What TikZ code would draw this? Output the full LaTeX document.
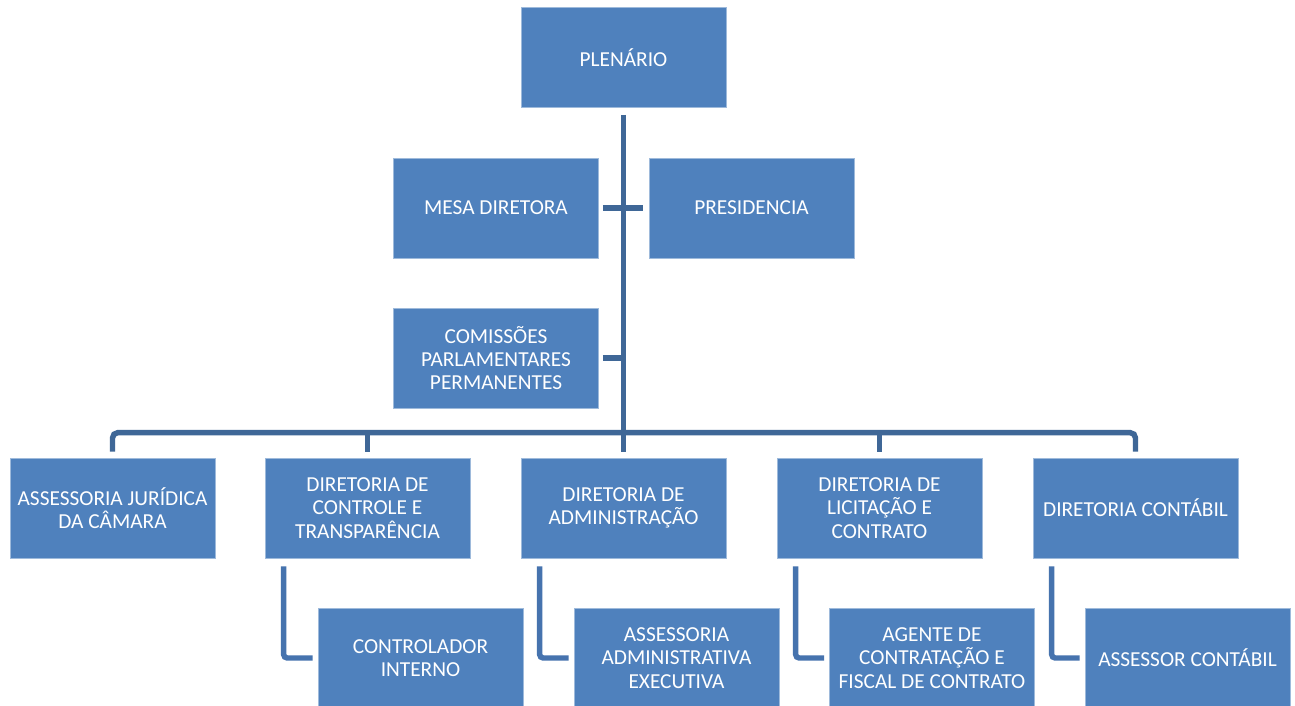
\documentclass[tikz,border=0pt]{standalone}
\usepackage{fontspec}
\setmainfont{Carlito}
\usepackage{tikz}
\usetikzlibrary{positioning,calc}
\definecolor{boxblue}{HTML}{4F81BD}
\definecolor{linkblue}{HTML}{3F6797}
\definecolor{sublink}{HTML}{4673AE}
\begin{document}
\begin{tikzpicture}[x=0.02cm,y=-0.02cm]
            \tikzstyle{every node}=[font=\fontsize{12.15}{13.3}\selectfont]
            \tikzstyle{unit}=[rectangle, fill=boxblue, draw=boxblue!55!white, line width=0.4pt, text=white, align=center, minimum width=4.1cm, minimum height=2cm, inner sep=0pt]
            \tikzstyle{link}=[line width=3.1pt, draw=linkblue]
            \tikzstyle{sub}=[line width=3.1pt, draw=sublink, rounded corners=2pt]
            \useasboundingbox [fill=white] (0,0) rectangle (1295,706);
            % top of the chart
            \node [unit] (plenario) at (623.5,57.5) {PLENÁRIO};
            \node [unit] (mesa) at (496,208) {MESA DIRETORA};
            \node [unit] (presid) at (751.5,208) {PRESIDENCIA};
            \node [unit] (comis) at (496,358) {COMISSÕES\\PARLAMENTARES\\PERMANENTES};
            % directorates
            \node [unit] (jur) at (112.5,508) {ASSESSORIA JURÍDICA\\DA CÂMARA};
            \node [unit] (ctrl) at (367.5,508) {DIRETORIA DE\\CONTROLE E\\TRANSPARÊNCIA};
            \node [unit] (adm) at (623.5,508) {DIRETORIA DE\\ADMINISTRAÇÃO};
            \node [unit] (lic) at (879.5,508) {DIRETORIA DE\\LICITAÇÃO E\\CONTRATO};
            \node [unit] (cont) at (1135.5,508) {DIRETORIA CONTÁBIL};
            % staff below
            \node [unit] (ctrlint) at (420.5,658) {CONTROLADOR\\INTERNO};
            \node [unit] (admexec) at (676.5,658) {ASSESSORIA\\ADMINISTRATIVA\\EXECUTIVA};
            \node [unit] (agente) at (932,658) {AGENTE DE\\CONTRATAÇÃO E\\FISCAL DE CONTRATO};
            \node [unit] (assess) at (1187.5,658) {ASSESSOR CONTÁBIL};
            % trunk and bus
            \coordinate (top) at ($(plenario.south)+(0,7)$);
            \coordinate (hub) at ($(adm.north)+(0,-25)$);
            \draw [link] (top) -- (hub);
            \draw [link] ($(mesa.east)+(4,0)$) -- ($(presid.west)+(-6,0)$);
            \draw [link] ($(comis.east)+(4,0)$) -- (comis.east -| hub);
            \draw [link, rounded corners=3pt] ($(jur.north)+(0,-6)$) |- ($(cont.north)+(0,-25)$) -- ($(cont.north)+(0,-6)$);
            \draw [link] ($(ctrl.north)+(0,-6)$) -- ($(ctrl.north)+(0,-25)$);
            \draw [link] ($(adm.north)+(0,-6)$) -- (hub);
            \draw [link] ($(lic.north)+(0,-6)$) -- ($(lic.north)+(0,-25)$);
            % L links
            \draw [sub] ($(ctrl.south west)+(19,8)$) |- ($(ctrlint.west)+(-5,0)$);
            \draw [sub] ($(adm.south west)+(19,8)$) |- ($(admexec.west)+(-5,0)$);
            \draw [sub] ($(lic.south west)+(19,8)$) |- ($(agente.west)+(-5,0)$);
            \draw [sub] ($(cont.south west)+(19,8)$) |- ($(assess.west)+(-5,0)$);
        \end{tikzpicture}
\end{document}
